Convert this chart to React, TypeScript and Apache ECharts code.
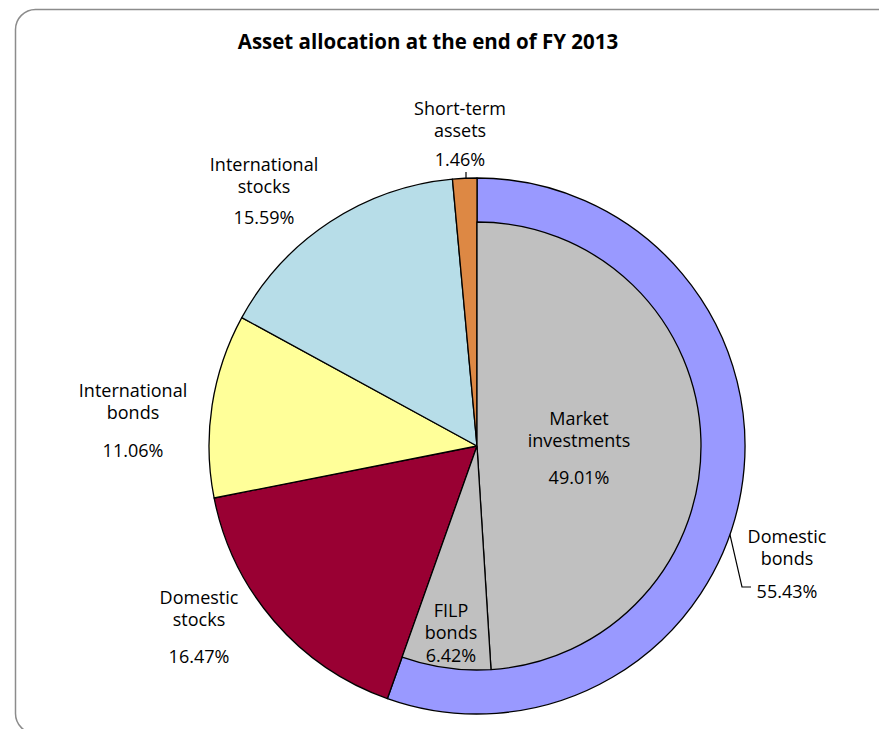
import React, { useEffect, useRef } from 'react';
import * as echarts from 'echarts';

// ---- data ----
const chartTitle = 'Asset allocation at the end of FY 2013';
const outerNames = ['Domestic bonds', 'Domestic stocks', 'International bonds', 'International stocks', 'Short-term assets'];
const outerValues = [55.43, 16.47, 11.06, 15.59, 1.46];
const innerNames = ['Market investments', 'FILP bonds'];
const innerValues = [49.01, 6.42];
const outerLabelLines = [['Domestic', 'bonds'], ['Domestic', 'stocks'], ['International', 'bonds'], ['International', 'stocks'], ['Short-term', 'assets']];
const innerLabelLines = [['Market', 'investments'], ['FILP', 'bonds']];

// ---- styles / layout ----
const outerColors = ['#9999FF', '#990033', '#FFFF99', '#B7DDE8', '#DD8844'];
const innerColors = ['#C0C0C0', '#C0C0C0'];
// [x center, y top, line height of percentage line]
const outerLabelPos = [[787, 524.5, 45], [199, 585.5, 53], [133, 378.5, 55], [264, 152.5, 41], [460, 96.5, 37]];
const innerLabelPos = [[579, 406.5, 53], [451, 598.5, 25]];
const outerLeaders: (number[][] | null)[] = [
  [[719, 487], [742, 587], [751, 587]],
  null,
  null,
  null,
  [[466, 198], [466, 185], [466, 172]],
];

const FONT = '"Open Sans", sans-serif';
const CX = 477;
const CY = 446;
const R_OUT = 268;
const R_IN = 224;

function pct(v: number) {
  return v.toFixed(2) + '%';
}

function makeLabel(lines: string[], v: number, lh: number, position: string) {
  return {
    show: true,
    position,
    align: 'center',
    formatter: lines.map((s) => `{n|${s}}`).join('\n') + `\n{p|${pct(v)}}`,
    rich: {
      n: { fontSize: 18, lineHeight: 22, fontFamily: FONT, color: '#000', align: 'center' },
      p: { fontSize: 18, lineHeight: lh, fontFamily: FONT, color: '#000', align: 'center' },
    },
  };
}

export default function App() {
  const ref = useRef<HTMLDivElement>(null);
  useEffect(() => {
    const chart = echarts.init(ref.current!, null, { renderer: 'svg' });
    const total = outerValues.reduce((a, b) => a + b, 0);
    const innerSum = innerValues.reduce((a, b) => a + b, 0);

    const outerData = outerNames.map((name, i) => ({
      name,
      value: outerValues[i],
      itemStyle: { color: outerColors[i] },
      label: makeLabel(outerLabelLines[i], outerValues[i], outerLabelPos[i][2], 'outside'),
      labelLine: {
        show: !!outerLeaders[i],
        lineStyle: { color: '#000', width: 1.2 },
      },
    }));

    const innerData: any[] = innerNames.map((name, i) => ({
      name,
      value: innerValues[i],
      itemStyle: { color: innerColors[i] },
      label: makeLabel(innerLabelLines[i], innerValues[i], innerLabelPos[i][2], 'inside'),
      labelLine: { show: false },
    }));
    innerData.push({
      name: '',
      value: total - innerSum,
      itemStyle: { color: 'rgba(0,0,0,0)', borderWidth: 0 },
      label: { show: false },
      labelLine: { show: false },
    });

    chart.setOption({
      animation: false,
      title: {
        text: chartTitle,
        left: 423,
        top: 25,
        textAlign: 'center',
        textStyle: { fontFamily: FONT, fontWeight: 'bold', fontSize: 20.5, color: '#000' },
      },
      graphic: [
        {
          type: 'rect',
          z: -10,
          shape: { x: 15.5, y: 9.5, width: 920, height: 724, r: 20 },
          style: { fill: '#fff', stroke: '#8c8c8c', lineWidth: 1.5 },
        },
      ],
      series: [
        {
          type: 'pie',
          silent: true,
          center: [CX, CY],
          radius: [0, R_OUT],
          startAngle: 90,
          clockwise: true,
          avoidLabelOverlap: false,
          itemStyle: { borderColor: '#000', borderWidth: 1.3 },
          emphasis: { disabled: true },
          data: outerData,
          labelLayout: (params: any) => {
            const p = outerLabelPos[params.dataIndex];
            if (!p) return {};
            const res: any = { x: p[0], y: p[1], align: 'center', verticalAlign: 'top' };
            const lp = outerLeaders[params.dataIndex];
            if (lp) res.labelLinePoints = lp;
            return res;
          },
        },
        {
          type: 'pie',
          silent: true,
          center: [CX, CY],
          radius: [0, R_IN],
          startAngle: 90,
          clockwise: true,
          avoidLabelOverlap: false,
          itemStyle: { borderColor: '#000', borderWidth: 1.3 },
          emphasis: { disabled: true },
          data: innerData,
          labelLayout: (params: any) => {
            const p = innerLabelPos[params.dataIndex];
            if (!p) return {};
            return { x: p[0], y: p[1], align: 'center', verticalAlign: 'top' };
          },
        },
      ],
    });
    return () => chart.dispose();
  }, []);
  return <div ref={ref} style={{ position: 'absolute', left: 0, top: 0, width: 879, height: 729 }} />;
}
